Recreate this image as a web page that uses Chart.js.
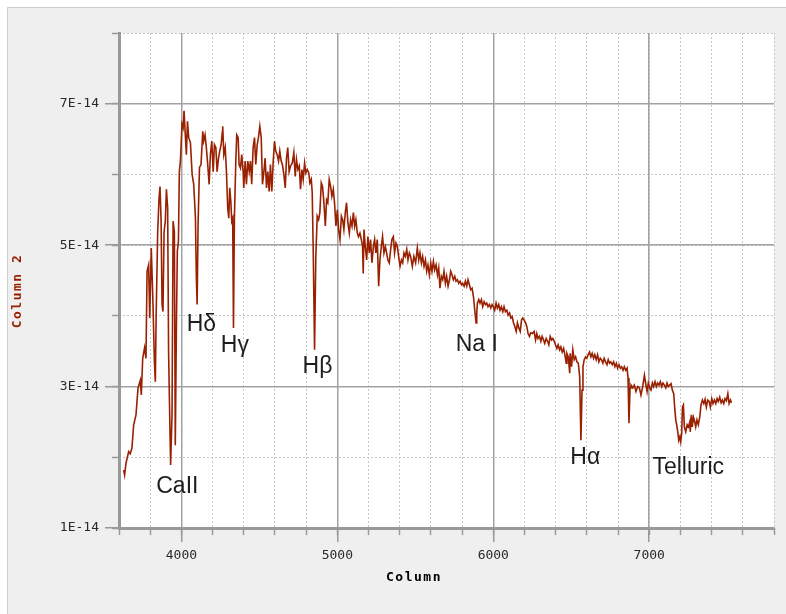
<!DOCTYPE html>
<html>
<head>
<meta charset="utf-8">
<title>Spectrum</title>
<script src="https://cdn.jsdelivr.net/npm/chart.js@4/dist/chart.umd.min.js"></script>
<style>
  html, body { margin: 0; padding: 0; background: #ffffff; }
  canvas { display: block; }
</style>
</head>
<body>
<canvas id="spectrum" width="786" height="614"></canvas>
<script>
// Wavelength (Angstrom) of each sample
const wavelength = [
  3630, 3636, 3645, 3662, 3672, 3683, 3694, 3709, 3722, 3737, 3743, 3752, 3764, 3773, 3780, 3790,
  3797, 3807, 3818, 3827, 3833, 3838, 3848, 3857, 3863, 3870, 3876, 3882, 3889, 3897, 3904, 3912,
  3918, 3925, 3931, 3940, 3947, 3955, 3961, 3968, 3974, 3981, 3987, 3994, 4004, 4011, 4017, 4026,
  4032, 4039, 4047, 4058, 4069, 4079, 4090, 4096, 4101, 4107, 4116, 4126, 4137, 4143, 4152, 4160,
  4169, 4178, 4186, 4195, 4204, 4212, 4221, 4229, 4238, 4246, 4255, 4263, 4265, 4272, 4281, 4289,
  4297, 4304, 4310, 4317, 4323, 4329, 4334, 4340, 4349, 4355, 4364, 4370, 4379, 4387, 4396, 4400,
  4409, 4417, 4426, 4435, 4443, 4451, 4460, 4469, 4477, 4486, 4494, 4503, 4512, 4520, 4529, 4537,
  4546, 4554, 4563, 4571, 4580, 4589, 4597, 4605, 4614, 4623, 4631, 4640, 4648, 4657, 4666, 4674,
  4682, 4691, 4700, 4711, 4721, 4730, 4738, 4747, 4756, 4764, 4773, 4781, 4790, 4798, 4807, 4817,
  4824, 4833, 4839, 4846, 4854, 4862, 4871, 4880, 4888, 4897, 4905, 4914, 4923, 4931, 4939, 4948,
  4957, 4965, 4974, 4982, 4991, 5000, 5008, 5017, 5026, 5034, 5042, 5051, 5059, 5068, 5077, 5085,
  5094, 5103, 5111, 5119, 5128, 5136, 5145, 5154, 5162, 5166, 5171, 5179, 5188, 5196, 5205, 5213,
  5222, 5231, 5239, 5247, 5256, 5265, 5273, 5282, 5290, 5299, 5308, 5316, 5324, 5333, 5342, 5350,
  5359, 5367, 5376, 5385, 5393, 5402, 5411, 5419, 5427, 5436, 5445, 5453, 5462, 5470, 5481, 5491,
  5502, 5513, 5522, 5530, 5539, 5547, 5556, 5565, 5573, 5581, 5590, 5599, 5607, 5616, 5624, 5633,
  5642, 5650, 5658, 5667, 5676, 5684, 5693, 5701, 5710, 5719, 5727, 5735, 5744, 5753, 5761, 5770,
  5778, 5787, 5796, 5804, 5813, 5821, 5830, 5838, 5847, 5855, 5864, 5873, 5881, 5890, 5894, 5898,
  5907, 5915, 5924, 5932, 5941, 5950, 5958, 5966, 5975, 5984, 5992, 6000, 6009, 6018, 6026, 6035,
  6043, 6052, 6061, 6069, 6078, 6087, 6095, 6104, 6112, 6121, 6130, 6138, 6147, 6155, 6164, 6173,
  6181, 6189, 6198, 6207, 6215, 6223, 6232, 6240, 6251, 6262, 6271, 6279, 6287, 6296, 6305, 6313,
  6322, 6330, 6339, 6348, 6356, 6365, 6374, 6382, 6391, 6399, 6408, 6416, 6425, 6433, 6442, 6451,
  6459, 6468, 6472, 6481, 6490, 6493, 6502, 6510, 6519, 6528, 6536, 6545, 6554, 6562, 6569, 6575,
  6583, 6592, 6600, 6608, 6617, 6626, 6634, 6643, 6651, 6660, 6669, 6677, 6686, 6694, 6703, 6711,
  6720, 6729, 6737, 6746, 6754, 6763, 6772, 6780, 6789, 6797, 6806, 6815, 6823, 6832, 6840, 6849,
  6858, 6864, 6870, 6877, 6883, 6894, 6904, 6915, 6926, 6937, 6947, 6958, 6969, 6977, 6986, 6994,
  7003, 7011, 7020, 7028, 7037, 7046, 7054, 7063, 7071, 7080, 7088, 7097, 7106, 7114, 7122, 7131,
  7140, 7148, 7157, 7163, 7170, 7176, 7183, 7189, 7196, 7202, 7208, 7213, 7219, 7225, 7234, 7243,
  7251, 7260, 7263, 7270, 7276, 7283, 7289, 7298, 7306, 7315, 7324, 7332, 7341, 7350, 7358, 7366,
  7375, 7384, 7392, 7401, 7409, 7418, 7427, 7435, 7443, 7452, 7461, 7469, 7478, 7486, 7495, 7504,
  7512, 7521, 7527
];

// Flux of each sample, in units of 1E-14
const flux = [
  1.82, 1.75, 1.92, 2.08, 2.05, 2.13, 2.46, 2.60, 2.98, 3.09, 2.88, 3.40, 3.55, 3.40, 4.63, 4.72,
  3.97, 4.96, 4.16, 3.35, 3.07, 3.97, 5.19, 5.67, 5.83, 5.34, 4.16, 4.06, 5.19, 5.34, 5.79, 5.53,
  3.49, 2.60, 1.89, 2.60, 5.34, 5.19, 2.17, 3.83, 4.91, 5.05, 6.04, 6.19, 6.71, 6.66, 6.90, 6.52,
  6.28, 6.75, 6.52, 6.45, 6.00, 5.86, 5.39, 4.54, 4.16, 5.29, 6.10, 6.14, 6.61, 6.47, 6.56, 6.38,
  6.14, 5.86, 6.28, 6.47, 6.04, 6.42, 6.38, 6.04, 6.23, 6.33, 6.42, 6.61, 6.68, 6.28, 6.38, 6.04,
  5.53, 5.38, 5.81, 5.62, 5.34, 5.38, 3.83, 5.38, 6.19, 6.56, 6.52, 6.14, 6.09, 6.28, 6.04, 5.81,
  6.19, 5.86, 6.19, 6.04, 6.19, 5.86, 6.38, 6.52, 6.14, 6.42, 6.52, 6.68, 6.52, 5.86, 6.04, 6.23,
  5.81, 6.04, 5.76, 6.14, 5.76, 6.19, 6.47, 6.33, 6.28, 6.19, 6.33, 6.19, 6.14, 6.00, 5.81, 6.23,
  6.38, 6.04, 6.12, 6.16, 6.31, 5.97, 6.21, 6.07, 6.12, 5.79, 6.07, 5.93, 6.16, 6.02, 6.07, 6.02,
  5.88, 5.93, 5.74, 4.84, 3.52, 4.84, 5.41, 5.36, 5.46, 5.88, 5.83, 5.60, 5.27, 5.64, 5.60, 5.93,
  5.83, 5.69, 5.79, 5.60, 5.27, 5.50, 5.22, 5.08, 5.41, 5.36, 5.22, 5.46, 5.60, 5.31, 5.17, 5.36,
  5.27, 5.46, 5.27, 5.36, 5.17, 5.12, 5.17, 5.08, 4.98, 4.60, 5.22, 4.98, 4.79, 5.12, 4.89, 5.08,
  4.75, 4.98, 5.08, 4.89, 5.08, 4.42, 4.79, 4.98, 5.12, 4.89, 4.98, 4.89, 4.79, 4.75, 4.94, 5.08,
  5.12, 4.89, 5.03, 4.98, 4.84, 4.70, 4.79, 4.75, 4.89, 4.84, 4.94, 4.79, 4.89, 4.84, 4.70, 4.84,
  4.75, 4.96, 4.79, 4.89, 4.75, 4.84, 4.70, 4.79, 4.63, 4.72, 4.58, 4.75, 4.63, 4.77, 4.65, 4.72,
  4.58, 4.68, 4.39, 4.56, 4.51, 4.63, 4.46, 4.56, 4.42, 4.51, 4.63, 4.58, 4.51, 4.56, 4.49, 4.51,
  4.46, 4.49, 4.44, 4.46, 4.42, 4.49, 4.42, 4.51, 4.44, 4.37, 4.39, 4.27, 4.08, 3.90, 4.04, 4.18,
  4.23, 4.18, 4.23, 4.13, 4.20, 4.16, 4.18, 4.13, 4.16, 4.11, 4.16, 4.13, 4.08, 4.18, 4.11, 4.16,
  4.08, 4.13, 4.06, 4.13, 4.06, 4.08, 4.01, 4.04, 3.97, 3.99, 3.90, 3.85, 3.78, 3.90, 3.83, 3.78,
  3.94, 3.97, 3.94, 3.90, 3.85, 3.75, 3.71, 3.76, 3.75, 3.78, 3.66, 3.75, 3.68, 3.71, 3.64, 3.71,
  3.66, 3.61, 3.68, 3.64, 3.59, 3.71, 3.66, 3.68, 3.64, 3.59, 3.54, 3.59, 3.52, 3.56, 3.49, 3.54,
  3.45, 3.33, 3.47, 3.42, 3.19, 3.47, 3.28, 3.52, 3.38, 3.42, 3.35, 3.33, 3.14, 2.24, 2.95, 3.28,
  3.38, 3.42, 3.40, 3.45, 3.49, 3.42, 3.47, 3.40, 3.45, 3.38, 3.45, 3.35, 3.40, 3.38, 3.33, 3.40,
  3.35, 3.31, 3.38, 3.33, 3.35, 3.31, 3.35, 3.28, 3.33, 3.26, 3.31, 3.26, 3.28, 3.23, 3.28, 3.23,
  3.26, 3.12, 2.48, 2.98, 3.02, 2.98, 3.02, 2.93, 3.00, 2.98, 2.88, 3.00, 3.16, 3.05, 2.93, 3.05,
  2.98, 2.95, 3.05, 3.00, 3.07, 3.00, 3.05, 3.02, 3.07, 3.00, 3.05, 3.02, 2.98, 3.05, 3.00, 3.02,
  3.04, 2.95, 2.90, 2.71, 2.53, 2.46, 2.36, 2.24, 2.29, 2.22, 2.34, 2.71, 2.74, 2.43, 2.36, 2.46,
  2.43, 2.50, 2.36, 2.60, 2.43, 2.57, 2.53, 2.43, 2.53, 2.46, 2.57, 2.74, 2.81, 2.76, 2.82, 2.71,
  2.81, 2.79, 2.71, 2.83, 2.76, 2.81, 2.76, 2.83, 2.79, 2.85, 2.77, 2.81, 2.76, 2.83, 2.80, 2.90,
  2.76, 2.81, 2.77
];

// Axis ticks
const xMajorTicks = [4000, 5000, 6000, 7000];
const xMinorTicks = [3600, 3800, 4000, 4200, 4400, 4600, 4800, 5000, 5200, 5400, 5600, 5800,
                     6000, 6200, 6400, 6600, 6800, 7000, 7200, 7400, 7600, 7800];
const yMajorTicks = [1, 3, 5, 7];
const yMinorTicks = [1, 2, 3, 4, 5, 6, 7, 8];

// Spectral feature labels: name, wavelength, flux level of the text baseline
const lineNames = ['CaII', 'H\u03B4', 'H\u03B3', 'H\u03B2', 'Na I', 'H\u03B1', 'Telluric'];
const lineWave = [3974, 4128, 4343, 4873, 5894, 6590, 7250];
const lineTextFlux = [1.50, 3.79, 3.49, 3.19, 3.51, 1.91, 1.77];

const LINE_COLOR = '#992000';
const MAJOR_GRID = '#a2a2a2';
const MINOR_GRID = '#c6c6c6';
const AXIS_COLOR = '#999999';
const TICK_FONT = { family: '"DejaVu Sans Mono", monospace', size: 13 };

const setTicks = values => scale => { scale.ticks = values.map(v => ({ value: v })); };

// Grey panel behind the plot with a white plotting area
const panelPlugin = {
  id: 'panel',
  beforeDraw(chart) {
    const { ctx, chartArea: a, width, height } = chart;
    ctx.save();
    ctx.fillStyle = '#ffffff';
    ctx.fillRect(0, 0, width, height);
    ctx.fillStyle = '#efefef';
    ctx.fillRect(7, 7, width - 7, height - 7);
    ctx.strokeStyle = '#cdcdcd';
    ctx.lineWidth = 1;
    ctx.beginPath();
    ctx.moveTo(7.5, height);
    ctx.lineTo(7.5, 7.5);
    ctx.lineTo(width, 7.5);
    ctx.stroke();
    ctx.fillStyle = '#ffffff';
    ctx.fillRect(a.left, a.top, a.right - a.left, a.bottom - a.top);
    ctx.restore();
  }
};

// Feature names and axis titles
const textPlugin = {
  id: 'featureText',
  afterDatasetsDraw(chart) {
    const { ctx, scales: { x, y } } = chart;
    ctx.save();
    ctx.font = '23px "Liberation Sans", Arial, sans-serif';
    ctx.fillStyle = '#1e1e1e';
    ctx.textAlign = 'center';
    ctx.textBaseline = 'alphabetic';
    lineNames.forEach((name, i) => {
      ctx.fillText(name, x.getPixelForValue(lineWave[i]), y.getPixelForValue(lineTextFlux[i]));
    });
    ctx.restore();
  },
  afterDraw(chart) {
    const { ctx } = chart;
    ctx.save();
    ctx.font = 'bold 13px "DejaVu Sans Mono", monospace';
    ctx.letterSpacing = '1.5px';
    ctx.textAlign = 'center';
    ctx.textBaseline = 'middle';
    ctx.fillStyle = '#000000';
    ctx.fillText('Column', 414, 578);
    ctx.translate(18, 291);
    ctx.rotate(-Math.PI / 2);
    ctx.fillStyle = LINE_COLOR;
    ctx.fillText('Column 2', 0, 0);
    ctx.restore();
  }
};

new Chart(document.getElementById('spectrum'), {
  type: 'line',
  data: {
    datasets: [{
      data: wavelength.map((w, i) => ({ x: w, y: flux[i] })),
      xAxisID: 'x',
      yAxisID: 'y',
      borderColor: LINE_COLOR,
      borderWidth: 1.6,
      pointRadius: 0,
      tension: 0,
      fill: false
    }]
  },
  options: {
    responsive: false,
    animation: false,
    devicePixelRatio: 1,
    layout: { padding: { top: 33, right: 12, left: 0, bottom: 0 } },
    plugins: { legend: { display: false }, tooltip: { enabled: false } },
    scales: {
      xMinor: {
        type: 'linear', position: 'bottom', weight: 0, min: 3600, max: 7800,
        afterBuildTicks: setTicks(xMinorTicks),
        afterFit: s => { s.height = 0; },
        grid: { color: MINOR_GRID, lineWidth: 1, tickLength: 7, tickColor: AXIS_COLOR, tickWidth: 1.5, z: -2 },
        border: { display: false, dash: [2, 2] },
        ticks: { display: false }
      },
      x: {
        type: 'linear', position: 'bottom', weight: 1, min: 3600, max: 7800,
        afterBuildTicks: setTicks(xMajorTicks),
        afterFit: s => { s.height = 86; },
        grid: { color: MAJOR_GRID, lineWidth: 1.5, tickLength: 14, tickColor: AXIS_COLOR, tickWidth: 1.5, z: -1 },
        border: { display: true, color: AXIS_COLOR, width: 3 },
        ticks: { font: TICK_FONT, color: '#2a2a2a', padding: 6, maxRotation: 0, autoSkip: false,
                 callback: v => String(v) }
      },
      yMinor: {
        type: 'linear', position: 'left', weight: 0, min: 1, max: 8,
        afterBuildTicks: setTicks(yMinorTicks),
        afterFit: s => { s.width = 0; },
        grid: { color: MINOR_GRID, lineWidth: 1, tickLength: 7, tickColor: AXIS_COLOR, tickWidth: 1.5, z: -2 },
        border: { display: false, dash: [2, 2] },
        ticks: { display: false }
      },
      y: {
        type: 'linear', position: 'left', weight: 1, min: 1, max: 8,
        afterBuildTicks: setTicks(yMajorTicks),
        afterFit: s => { s.width = 119; },
        grid: { color: MAJOR_GRID, lineWidth: 1.5, tickLength: 14, tickColor: AXIS_COLOR, tickWidth: 1.5, z: -1 },
        border: { display: true, color: AXIS_COLOR, width: 3 },
        ticks: { font: TICK_FONT, color: '#2a2a2a', padding: 6, autoSkip: false,
                 callback: v => v + 'E-14' }
      }
    }
  },
  plugins: [panelPlugin, textPlugin]
});
</script>
</body>
</html>
